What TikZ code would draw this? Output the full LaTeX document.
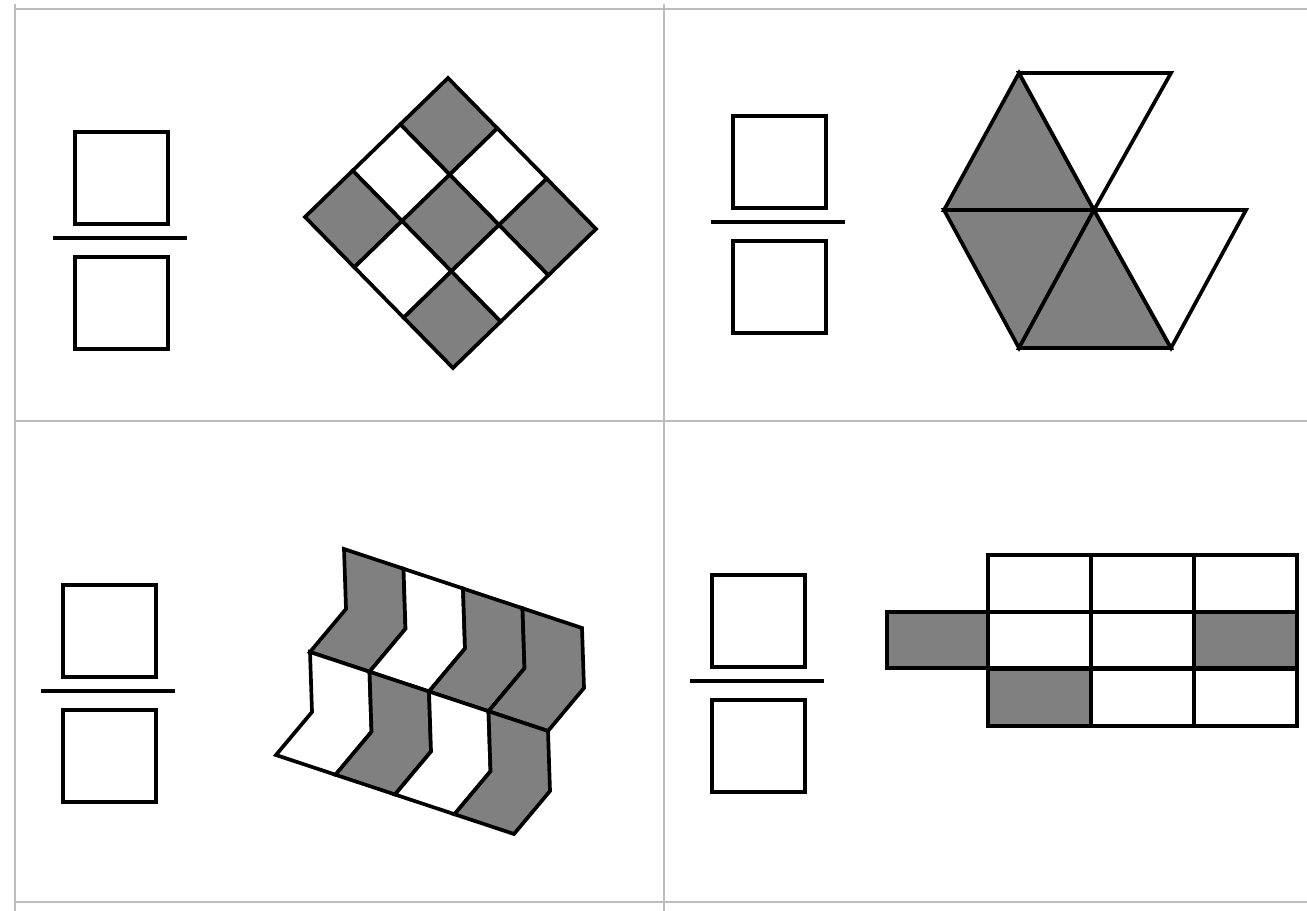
\documentclass[tikz,border=0pt]{standalone}
\usepackage{tikz}
\usetikzlibrary{calc}
\definecolor{cellgrey}{HTML}{808080}
\definecolor{rulegrey}{HTML}{BDBDBD}
\tikzset{
  shapeline/.style={draw=black,line width=2.1pt,line join=miter},
  tmplbox/.style={draw=black,line width=2.3pt},
  sheetrule/.style={draw=rulegrey,line width=1.1pt},
}
% empty fraction template, #1,#2 = upper left corner of the numerator box
\newcommand{\blankfrac}[2]{%
  \draw[tmplbox] (#1,#2) rectangle ++(93,92);
  \draw[tmplbox] (#1-22,#2+106) -- ++(134,0);
  \draw[tmplbox] (#1,#2+125) rectangle ++(93,92);
}

\begin{document}
\begin{tikzpicture}[x=0.02cm,y=-0.02cm]
        \useasboundingbox (0,0) rectangle (1307,911);
        % sheet grid
        \draw[sheetrule] (15,4) -- (15,911);
        \draw[sheetrule] (664,4) -- (664,911);
        \draw[sheetrule] (14,9) -- (1307,9);
        \draw[sheetrule] (14,421) -- (1307,421);
        \draw[sheetrule] (14,902) -- (1307,902);
        % templates
        \blankfrac{75}{132}
        \blankfrac{733}{116}
        \blankfrac{63}{585}
        \blankfrac{712}{575}
        % tilted checkerboard
        \coordinate (dT) at (448,78);
        \foreach \i in {0,1,2}
          \foreach \j in {0,1,2} {
            \pgfmathparse{mod(\i+\j,2)==0 ? "cellgrey" : "white"}
            \edef\cellcol{\pgfmathresult}
            \draw[shapeline,fill=\cellcol] ($(dT)+\i*(49.33,50.33)+\j*(-47.67,46.33)$)
              -- ++(49.33,50.33) -- ++(-47.67,46.33) -- ++(-49.33,-50.33) -- cycle;
          }
        % triangles
        \coordinate (hTL) at (1019,73);
        \coordinate (hTR) at (1171,73);
        \coordinate (hL) at (944,210);
        \coordinate (hC) at (1094,210);
        \coordinate (hR) at (1246,210);
        \coordinate (hBL) at (1019,348);
        \coordinate (hBR) at (1171,348);
        \draw[shapeline,fill=cellgrey] (hTL) -- (hL) -- (hC) -- cycle;
        \draw[shapeline,fill=cellgrey] (hL) -- (hBL) -- (hC) -- cycle;
        \draw[shapeline,fill=cellgrey] (hBL) -- (hBR) -- (hC) -- cycle;
        \draw[shapeline,fill=white] (hTL) -- (hTR) -- (hC) -- cycle;
        \draw[shapeline,fill=white] (hC) -- (hR) -- (hBR) -- cycle;
        % chevron strip
        \coordinate (cv0) at (344,549);
        \foreach \r/\k/\col in {0/0/cellgrey,0/1/white,0/2/cellgrey,0/3/cellgrey,
                                1/0/white,1/1/cellgrey,1/2/white,1/3/cellgrey}
          \draw[shapeline,fill=\col] ($(cv0)+\k*(59.5,19.75)+\r*(-34,103)$)
            -- ++(59.5,19.75) -- ++(2,60) -- ++(-36,43)
            -- ++(-59.5,-19.75) -- ++(36,-43) -- cycle;
        % rectangle grid
        \foreach \cx in {0,1,2}
          \foreach \cy in {0,1,2}
            \draw[shapeline,fill=white] (988+\cx*103,555+\cy*57) rectangle ++(103,57);
        \draw[shapeline,fill=cellgrey] (887,612) rectangle (988,668);
        \draw[shapeline,fill=cellgrey] (1194,612) rectangle (1297,668);
        \draw[shapeline,fill=cellgrey] (988,669) rectangle (1091,726);
        \draw[black,line width=2.8pt] (988,612) -- (1297,612);
        \draw[black,line width=2.8pt] (988,668) -- (1297,668);
      \end{tikzpicture}
\end{document}
